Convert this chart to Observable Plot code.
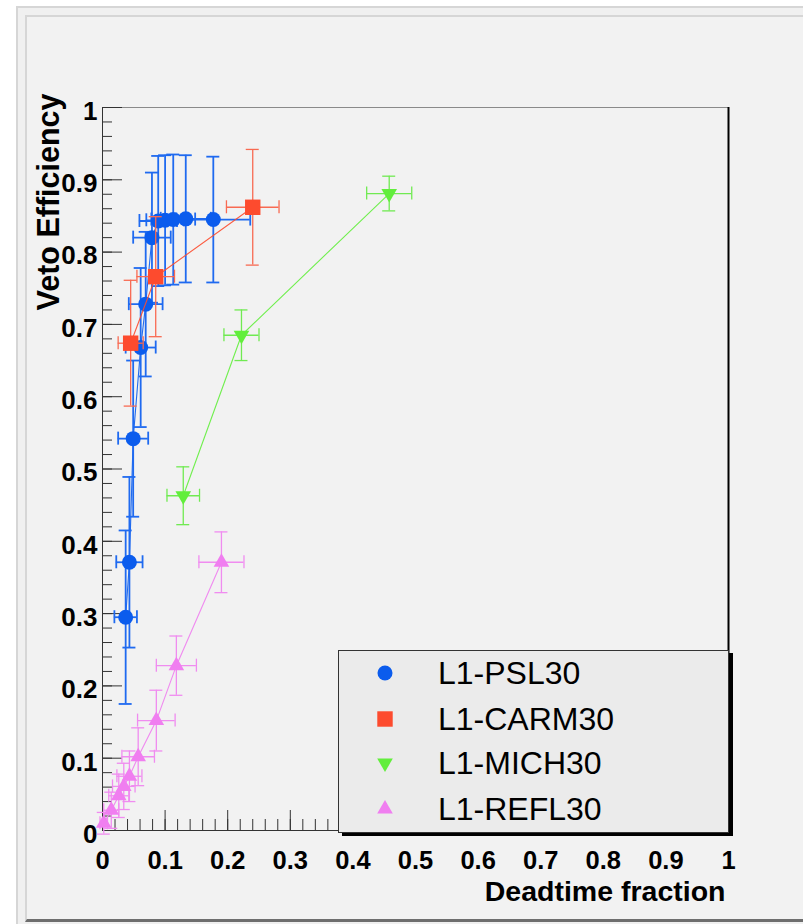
<!DOCTYPE html>
<html><head><meta charset="utf-8">
<script src="https://cdn.jsdelivr.net/npm/d3@7"></script>
<script src="https://cdn.jsdelivr.net/npm/@observablehq/plot@0.6"></script>
<style>
html,body{margin:0;padding:0;background:#fff;width:803px;height:924px;overflow:hidden;font-family:"Liberation Sans",Arial,sans-serif;}
#pad1{position:absolute;left:16px;top:6px;width:800px;height:930px;border-left:2px solid #d6d6d6;border-top:2px solid #d6d6d6;background:#f0f0f0;box-sizing:border-box;}
#pad2{position:absolute;left:25px;top:15px;width:790px;height:907px;border-left:2px solid #d6d6d6;border-top:2px solid #d6d6d6;border-bottom:3px solid #6e6e6e;background:#f2f2f2;box-sizing:border-box;}
#chart{position:absolute;left:0;top:0;}
#legend{position:absolute;left:338px;top:650px;width:391px;height:183px;box-sizing:border-box;border:1px solid #333;background:#ebebeb;box-shadow:4px 3px 0 #000;}
.row{position:absolute;left:0;width:100%;height:32px;}
.row svg{position:absolute;left:30px;top:0;}
.row span{position:absolute;left:99px;top:0;font-size:32px;line-height:32px;color:#000;white-space:nowrap;}
</style>
</head><body>
<div id="pad1"></div><div id="pad2"></div>
<div id="chart"></div>
<div id="legend"></div>
<script>
// ---- data ----
const names = ["L1-PSL30", "L1-CARM30", "L1-MICH30", "L1-REFL30"];

const pslX  = [0.037, 0.043, 0.049, 0.061, 0.069, 0.079, 0.089, 0.100, 0.113, 0.133, 0.177];
const pslY  = [0.295, 0.371, 0.542, 0.668, 0.728, 0.820, 0.843, 0.844, 0.845, 0.846, 0.845];
const pslEx = [0.018, 0.021, 0.024, 0.024, 0.027, 0.030, 0.030, 0.030, 0.035, 0.040, 0.059];
const pslEy = [0.120, 0.118, 0.108, 0.110, 0.100, 0.090, 0.090, 0.090, 0.090, 0.088, 0.087];

const carmX  = [0.045, 0.085, 0.240];
const carmY  = [0.674, 0.766, 0.862];
const carmEx = [0.020, 0.030, 0.042];
const carmEy = [0.087, 0.083, 0.080];

const michX  = [0.129, 0.222, 0.458];
const michY  = [0.463, 0.685, 0.881];
const michEx = [0.026, 0.028, 0.036];
const michEy = [0.040, 0.035, 0.024];

const reflX  = [0.002, 0.014, 0.026, 0.034, 0.043, 0.057, 0.086, 0.118, 0.190];
const reflY  = [0.010, 0.028, 0.048, 0.061, 0.075, 0.102, 0.152, 0.228, 0.371];
const reflEx = [0.006, 0.012, 0.016, 0.018, 0.020, 0.026, 0.030, 0.032, 0.036];
const reflEy = [0.015, 0.025, 0.030, 0.032, 0.035, 0.040, 0.042, 0.041, 0.042];

const xTicks = [0, 0.1, 0.2, 0.3, 0.4, 0.5, 0.6, 0.7, 0.8, 0.9, 1];
const yTicks = [0, 0.1, 0.2, 0.3, 0.4, 0.5, 0.6, 0.7, 0.8, 0.9, 1];
const xMinor = d3.range(0, 51).map(i => i / 50);
const yMinor = d3.range(0, 51).map(i => i / 50);

const xTitle = "Deadtime fraction";
const yTitle = "Veto Efficiency";

// ---- styling ----
const styles = [
  {color: "#0b5ced", bar: "#1f6af0", symbol: "circle",   r: 7.5, rotate: 0,   bw: 1.8},
  {color: "#fd4b2e", bar: "#f86a52", symbol: "square",   r: 8.7, rotate: 0,   bw: 1.3},
  {color: "#62ee3c", bar: "#70ea52", symbol: "triangle", r: 5.8, rotate: 180, bw: 1.3},
  {color: "#f07ef0", bar: "#f08cf0", symbol: "triangle", r: 5.8, rotate: 0,   bw: 1.3}
];
const raw = [[pslX, pslY, pslEx, pslEy], [carmX, carmY, carmEx, carmEy], [michX, michY, michEx, michEy], [reflX, reflY, reflEx, reflEy]];
const series = raw.map(([X, Y, EX, EY], k) => ({
  name: names[k], ...styles[k],
  data: X.map((x, i) => ({x, y: Y[i], ex: EX[i], ey: EY[i]}))
}));

const cap = 6.5;
const fmt = d => String(+d.toFixed(1));
const marks = [
  Plot.frame({stroke: "#8a8a8a"}),
  Plot.ruleY([0], {stroke: "#333"}),
  Plot.ruleX([0], {stroke: "#333"}),
  Plot.ruleX([1], {stroke: "#000", strokeWidth: 2}),
  Plot.axisX(xMinor, {tickSize: -11, tickFormat: () => "", stroke: "#333"}),
  Plot.axisX(xTicks, {tickSize: -20, tickFormat: () => "", stroke: "#333"}),
  Plot.axisY(yMinor, {tickSize: -10, tickFormat: () => "", stroke: "#333"}),
  Plot.axisY(yTicks, {tickSize: -20, tickFormat: () => "", stroke: "#333"}),
  Plot.axisX(xTicks, {tickSize: 0, tickPadding: 20.5, fontSize: 25.5, fontWeight: "bold", fill: "#000", tickFormat: fmt}),
  Plot.axisY(yTicks, {tickSize: 0, tickPadding: 5, dy: 4, fontSize: 26, fontWeight: "bold", fill: "#000", tickFormat: fmt}),
  Plot.text([yTitle], {text: d => d, frameAnchor: "top-left", rotate: -90, textAnchor: "end", lineAnchor: "bottom", dx: -44, dy: -14, fontSize: 30.5, fontWeight: "bold", fill: "#000"}),
  Plot.text([xTitle], {text: d => d, frameAnchor: "bottom-right", textAnchor: "end", lineAnchor: "bottom", dx: -3, dy: 70, fontSize: 28.5, fontWeight: "bold", fill: "#000"})
];
for (const s of series) {
  const st = {stroke: s.bar, strokeWidth: s.bw};
  marks.push(
    Plot.line(s.data, {x: "x", y: "y", stroke: s.color, strokeWidth: 1.1, strokeOpacity: 0.9}),
    Plot.ruleX(s.data, {x: "x", y1: d => d.y - d.ey, y2: d => d.y + d.ey, ...st}),
    Plot.ruleY(s.data, {y: "y", x1: d => d.x - d.ex, x2: d => d.x + d.ex, ...st}),
    Plot.ruleY(s.data, {y: d => d.y + d.ey, x1: "x", x2: "x", insetLeft: -cap, insetRight: -cap, ...st}),
    Plot.ruleY(s.data, {y: d => d.y - d.ey, x1: "x", x2: "x", insetLeft: -cap, insetRight: -cap, ...st}),
    Plot.ruleX(s.data, {x: d => d.x + d.ex, y1: "y", y2: "y", insetTop: -cap, insetBottom: -cap, ...st}),
    Plot.ruleX(s.data, {x: d => d.x - d.ex, y1: "y", y2: "y", insetTop: -cap, insetBottom: -cap, ...st}),
    Plot.dot(s.data, {x: "x", y: "y", symbol: s.symbol, r: s.r, rotate: s.rotate, fill: s.color, stroke: "none"})
  );
}

const chart = Plot.plot({
  width: 803, height: 924,
  marginLeft: 102, marginRight: 75, marginTop: 107, marginBottom: 94,
  x: {domain: [0, 1], label: null},
  y: {domain: [0, 1], label: null},
  style: {background: "transparent", fontFamily: "'Liberation Sans', Arial, sans-serif", overflow: "visible"},
  marks
});
document.getElementById("chart").appendChild(chart);

// ---- legend ----
const legend = document.getElementById("legend");
const rowCenters = [22, 68, 112, 158];
const symType = {circle: d3.symbolCircle, square: d3.symbolSquare, triangle: d3.symbolTriangle};
series.forEach((s, i) => {
  const row = document.createElement("div");
  row.className = "row";
  row.style.top = (rowCenters[i] - 16) + "px";
  const path = d3.symbol().type(symType[s.symbol]).size(Math.PI * s.r * s.r)();
  row.innerHTML = `<svg width="32" height="32"><path d="${path}" fill="${s.color}" transform="translate(16,16) rotate(${s.rotate})"/></svg><span style="top:0.4px">${s.name}</span>`;
  legend.appendChild(row);
});
</script>
</body></html>
